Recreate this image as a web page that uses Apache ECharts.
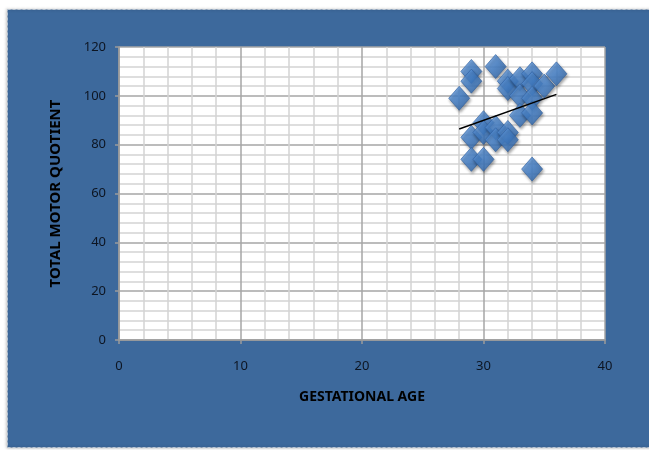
<!DOCTYPE html>
<html><head><meta charset="utf-8">
<script src="https://cdn.jsdelivr.net/npm/echarts@6/dist/echarts.min.js"></script>
<style>html,body{margin:0;padding:0;background:#fff;}#c{width:649px;height:450px;}</style>
</head><body><div id="c"></div>
<script>
const gestationalAge = [28, 29, 29, 29, 29, 30, 30, 30, 31, 31, 31, 32, 32, 32, 32, 33, 33, 33, 34, 34, 34, 34, 34, 35, 36];
const motorQuotient  = [99, 110, 106, 83, 74, 89, 85, 74, 112, 87, 82, 106, 103, 85, 82, 107, 100, 92, 109, 105, 99, 93, 70, 104, 109];
const trendX = [28, 36];
const trendY = [86.4, 100.6];
const xTicks = [0, 10, 20, 30, 40];
const yTicks = [0, 20, 40, 60, 80, 100, 120];

const points = gestationalAge.map((x, i) => [x, motorQuotient[i]]);
const trend = trendX.map((x, i) => [x, trendY[i]]);

const chart = echarts.init(document.getElementById('c'), null, {renderer: 'canvas'});
const labelStyle = {color: '#0d1522', fontFamily: 'Noto Sans', fontSize: 13};
const nameStyle = {color: '#000', fontWeight: 'bold', fontFamily: 'Noto Sans', fontSize: 14};
chart.setOption({
  animation: false,
  backgroundColor: '#fff',
  graphic: [{
    type: 'rect', z: -10, silent: true,
    shape: {x: 7.5, y: 9.5, width: 660, height: 438},
    style: {fill: '#3d699c', stroke: '#b8c4d2', lineWidth: 1, lineDash: [3, 2],
            shadowBlur: 3, shadowColor: 'rgba(0,0,0,0.35)', shadowOffsetX: -1}
  }],
  grid: {left: 119, right: 44, top: 47, bottom: 110, show: true, backgroundColor: '#fff', borderWidth: 0},
  xAxis: {
    type: 'value', min: xTicks[0], max: xTicks[xTicks.length - 1], interval: 10,
    name: 'GESTATIONAL AGE', nameLocation: 'middle', nameGap: 50,
    nameTextStyle: nameStyle,
    axisLine: {show: true, lineStyle: {color: '#9a9a9a', width: 1.5}},
    axisTick: {show: true, length: 4, lineStyle: {color: '#9a9a9a', width: 1.5}},
    axisLabel: Object.assign({margin: 20}, labelStyle),
    splitLine: {show: true, lineStyle: {color: '#a6a6a6', width: 1.5}},
    minorTick: {show: false, splitNumber: 5},
    minorSplitLine: {show: true, lineStyle: {color: '#d4d4d4', width: 1.5}}
  },
  yAxis: {
    type: 'value', min: yTicks[0], max: yTicks[yTicks.length - 1], interval: 20,
    name: 'TOTAL MOTOR QUOTIENT', nameLocation: 'middle', nameGap: 56, nameRotate: 90,
    nameTextStyle: Object.assign({}, nameStyle, {fontSize: 15}),
    axisLine: {show: true, lineStyle: {color: '#9a9a9a', width: 1.5}},
    axisTick: {show: true, length: 4, lineStyle: {color: '#9a9a9a', width: 1.5}},
    axisLabel: Object.assign({margin: 13}, labelStyle),
    splitLine: {show: true, lineStyle: {color: '#a6a6a6', width: 1.5}},
    minorTick: {show: false, splitNumber: 5},
    minorSplitLine: {show: true, lineStyle: {color: '#d4d4d4', width: 1.5}}
  },
  series: [{
    type: 'scatter', data: points, symbol: 'diamond', symbolSize: [21, 24],
    itemStyle: {
      color: new echarts.graphic.LinearGradient(0, 0, 1, 1, [
        {offset: 0, color: '#6fa6e8'}, {offset: 0.5, color: '#4381cc'}, {offset: 1, color: '#2b5e9e'}
      ]),
      borderColor: '#2f609f', borderWidth: 0.8,
      shadowBlur: 3, shadowColor: 'rgba(0,0,0,0.45)', shadowOffsetX: 1, shadowOffsetY: 2
    },
    z: 2
  }, {
    type: 'line', data: trend, symbol: 'none', silent: true,
    lineStyle: {color: '#000', width: 1.5}, z: 3
  }]
});
</script></body></html>
